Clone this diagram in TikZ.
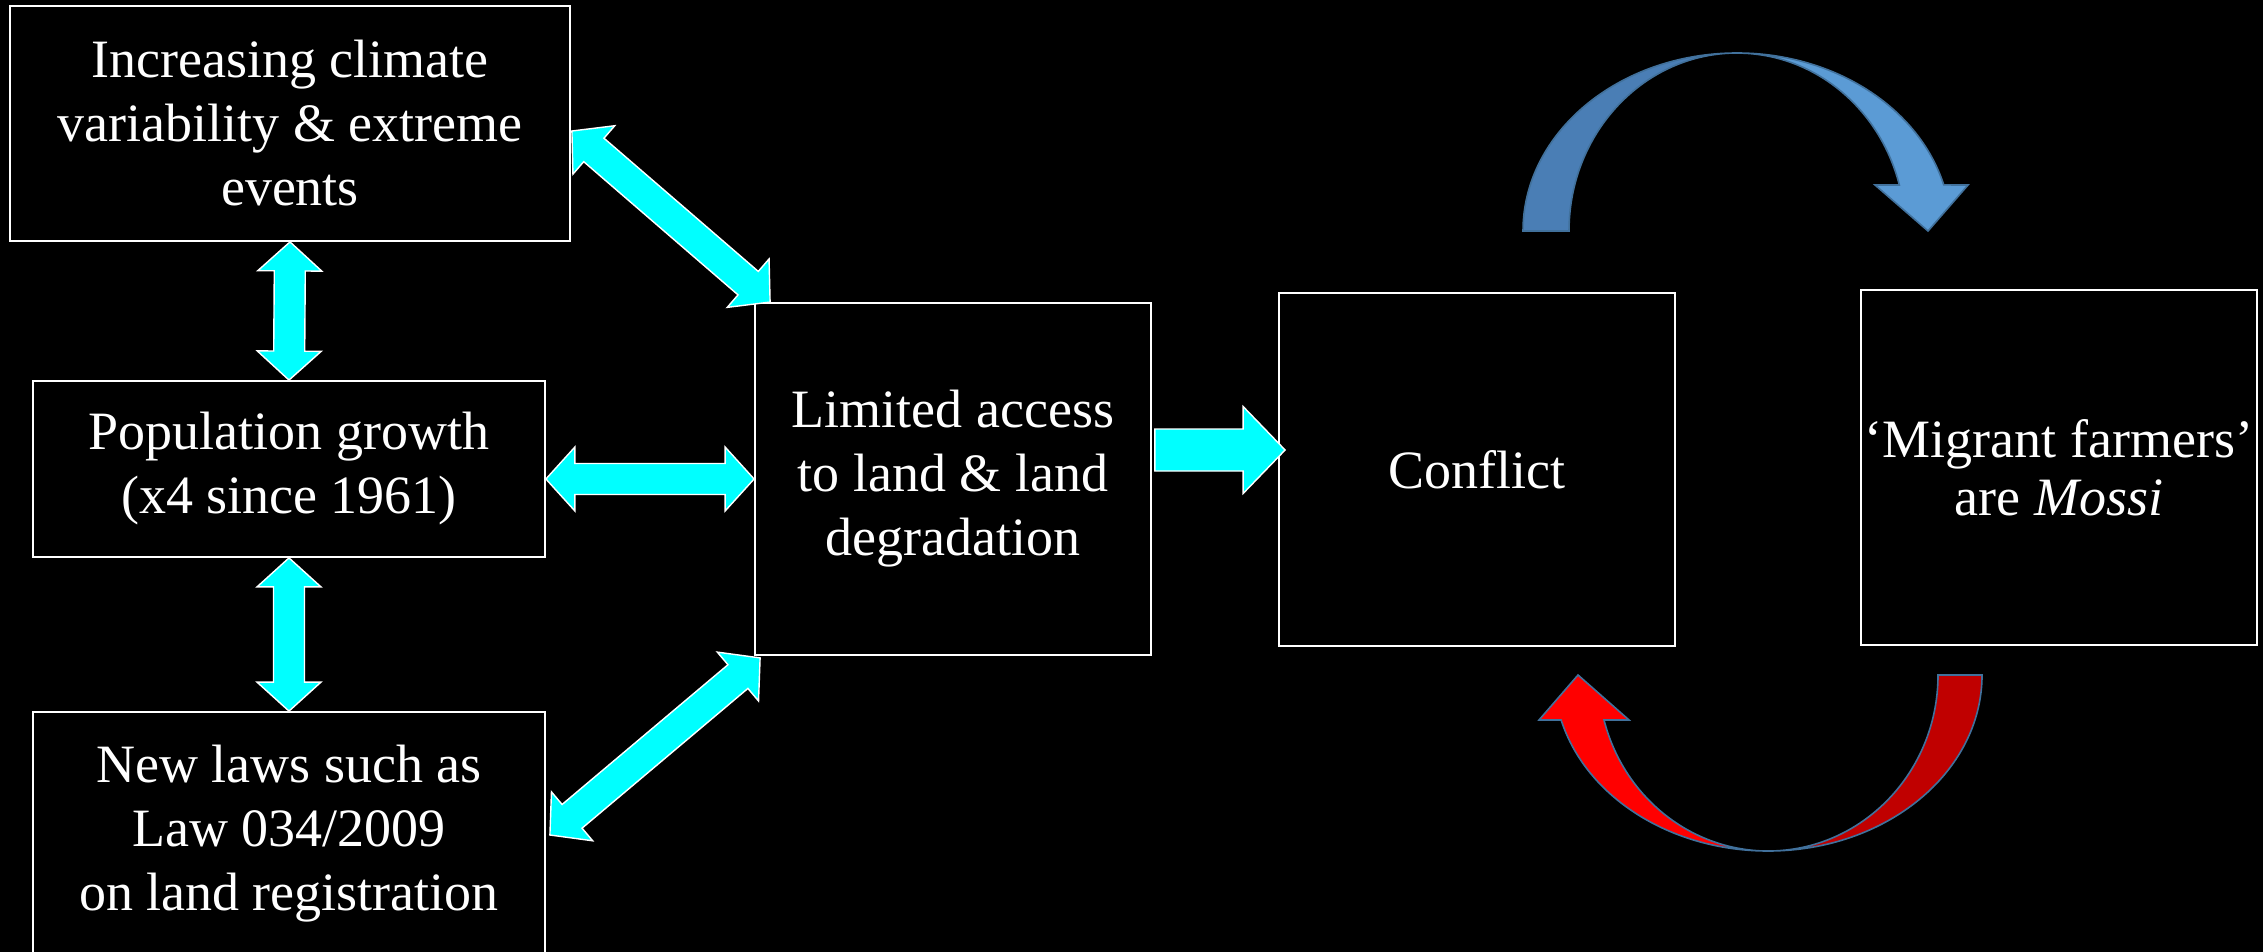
\documentclass[tikz,border=0pt]{standalone}
\usepackage{fontspec}
\setmainfont{Liberation Serif}
\usetikzlibrary{calc}
\definecolor{cyanfill}{RGB}{0,255,255}
\definecolor{redL}{RGB}{255,0,0}
\definecolor{redD}{RGB}{192,0,0}
\definecolor{blueD}{RGB}{74,126,181}
\definecolor{blueL}{RGB}{91,155,213}
\definecolor{edgeblue}{RGB}{65,113,156}
\tikzset{
  box/.style={draw=white, line width=0.9pt, text=white, align=center, inner sep=0pt,
    font=\fontsize{27pt}{32pt}\selectfont},
  cyarrow/.style={fill=cyanfill, draw=white, line width=0.7pt, line join=miter},
  curvarrow/.style={draw=edgeblue, line width=0.8pt, line join=miter}
}
% double-headed block arrow between two points
\newcommand\dblarrow[3]{%
  \coordinate (#1-a) at (#2);
  \coordinate (#1-b) at (#3);
  \coordinate (#1-ha) at ($(#1-a)!14.5pt!(#1-b)$);
  \coordinate (#1-hb) at ($(#1-b)!14.5pt!(#1-a)$);
  \draw[cyarrow] (#1-a) -- ($(#1-ha)!16pt!90:(#1-b)$) -- ($(#1-ha)!7.75pt!90:(#1-b)$)
    -- ($(#1-hb)!7.75pt!-90:(#1-a)$) -- ($(#1-hb)!16pt!-90:(#1-a)$) -- (#1-b)
    -- ($(#1-hb)!16pt!90:(#1-a)$) -- ($(#1-hb)!7.75pt!90:(#1-a)$)
    -- ($(#1-ha)!7.75pt!-90:(#1-b)$) -- ($(#1-ha)!16pt!-90:(#1-b)$) -- cycle;
}
% single-headed block arrow from tail to tip
\newcommand\sglarrow[3]{%
  \coordinate (#1-a) at (#2);
  \coordinate (#1-b) at (#3);
  \coordinate (#1-hb) at ($(#1-b)!21pt!(#1-a)$);
  \draw[cyarrow] ($(#1-a)!10.5pt!90:(#1-b)$) -- ($(#1-hb)!10.5pt!-90:(#1-a)$)
    -- ($(#1-hb)!21.75pt!-90:(#1-a)$) -- (#1-b) -- ($(#1-hb)!21.75pt!90:(#1-a)$)
    -- ($(#1-hb)!10.5pt!90:(#1-a)$) -- ($(#1-a)!10.5pt!-90:(#1-b)$) -- cycle;
}
\begin{document}
\begin{tikzpicture}[x=0.5pt, y=-0.5pt]
\useasboundingbox (0,0) rectangle (2263,952);
\fill[black] (0,0) rectangle (2263,952);
\begin{scope}
\clip (0,0) rectangle (2263,952);

\node[box, minimum width=280pt, minimum height=117.5pt] (clim) at (290,123.5)
  {Increasing climate\\variability \& extreme\\events};
\node[box, minimum width=256pt, minimum height=88pt] (pop) at (289,469)
  {Population growth\\(x4 since 1961)};
\node[box, minimum width=256pt, minimum height=122pt] (laws) at (289,834)
  {New laws such as\\Law 034/2009\\on land registration};
\node[box, minimum width=198pt, minimum height=176pt] (lim) at (953,479)
  {Limited access\\to land \& land\\degradation};
\node[box, minimum width=198pt, minimum height=176.5pt] (conf) at (1477,469.5)
  {Conflict};
\node[box, minimum width=198pt, minimum height=177.5pt,
  font=\fontsize{27pt}{29pt}\selectfont] (migr) at (2059,467.5)
  {‘Migrant farmers’\\are \textit{Mossi}};

\dblarrow{v1}{clim.south}{pop.north}
\dblarrow{v2}{pop.south}{laws.north}
\dblarrow{h1}{pop.east |- lim.west}{lim.west}
\dblarrow{d1}{$(clim.east)+(1,7.5)$}{$(lim.north west)+(16,0)$}
\dblarrow{d2}{$(laws.east)+(4,1)$}{$(lim.south west)+(6,2)$}
\sglarrow{r1}{$(lim.east)+(3,-29)$}{$(conf.west)+(7,-19.5)$}

% blue curved arrow (Conflict -> Migrant farmers)
\filldraw[curvarrow, fill=blueD] (1523,231)
  arc[start angle=180, end angle=270, x radius=214, y radius=178]
  arc[start angle=270, end angle=180, x radius=168, y radius=178] -- cycle;
\filldraw[curvarrow, fill=blueL] (1737,53)
  arc[start angle=270, end angle=345, x radius=214, y radius=178]
  -- (1968,185) -- (1928,231) -- (1875,185) -- (1899.3,185)
  arc[start angle=345, end angle=270, x radius=168, y radius=178] -- cycle;

% red curved arrow (Migrant farmers -> Conflict)
\filldraw[curvarrow, fill=redD] (1982,675)
  arc[start angle=0, end angle=90, x radius=214, y radius=176]
  arc[start angle=90, end angle=0, x radius=170, y radius=176] -- cycle;
\filldraw[curvarrow, fill=redL] (1768,851)
  arc[start angle=90, end angle=165.2, x radius=214, y radius=176]
  -- (1539,720) -- (1578,675) -- (1629,720) -- (1604,720)
  arc[start angle=165.2, end angle=90, x radius=170, y radius=176] -- cycle;
\end{scope}
\end{tikzpicture}
\end{document}
